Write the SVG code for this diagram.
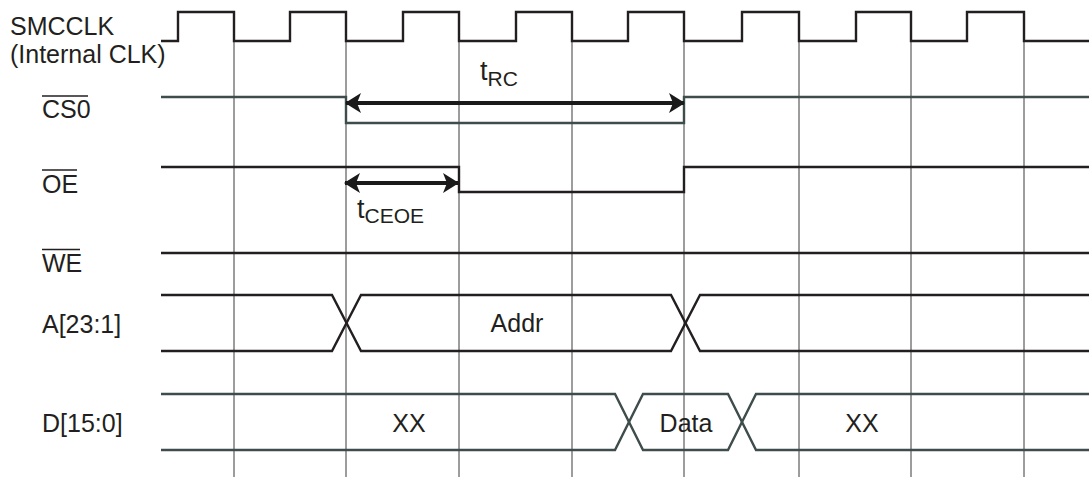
<svg xmlns="http://www.w3.org/2000/svg" width="1089" height="477" viewBox="0 0 1089 477">
<defs>
<style>
.lbl{font-family:"Liberation Sans",Arial,sans-serif;font-size:25px;fill:#231f20}
.big{font-size:27px}
.sub{font-size:21px}
.grid{stroke:#3a3a3a;stroke-width:1;fill:none}
.sig{stroke:#231f20;stroke-width:2.4;fill:none;stroke-linejoin:miter}
.sig2{stroke:#3f4c4c;stroke-width:2.4;fill:none}
.ovl{stroke:#231f20;stroke-width:1.6}
.arr{stroke:#1a1a1a;stroke-width:4;fill:none}
</style>
<marker id="ah" viewBox="0 0 16 20" refX="15" refY="10" markerWidth="16" markerHeight="20" markerUnits="userSpaceOnUse" orient="auto-start-reverse">
<path d="M0,0 L16,10 L0,20 L4,10 Z" fill="#1a1a1a"/>
</marker>
</defs>
<rect width="1089" height="477" fill="#fff"/>
<g id="gridlines">
<path class="grid" d="M234,41V477M346,41V477M459,41V477M572,41V477M684,41V477M799,41V477M911,41V477M1024,41V477"/>
</g>
<g id="smcclk">
<text class="lbl" x="10" y="35">SMCCLK</text>
<text class="lbl" x="10" y="63">(Internal CLK)</text>
<path class="sig" d="M161,41H178V12H234V41H290V12H346V41H403V12H459V41H516V12H572V41H628V12H684V41H742V12H799V41H856V12H911V41H967V12H1024V41H1089"/>
</g>
<g id="cs0">
<text class="lbl" x="42" y="118">CS0</text>
<line class="ovl" x1="42" y1="96" x2="88" y2="96"/>
<path class="sig2" d="M161,97H346V123H684V97H1089"/>
</g>
<g id="oe">
<text class="lbl" x="42" y="193">OE</text>
<line class="ovl" x1="42" y1="170" x2="77" y2="170"/>
<path class="sig" d="M161,167H459V192H684V167H1089"/>
</g>
<g id="we">
<text class="lbl" x="42" y="272">WE</text>
<line class="ovl" x1="42" y1="249.5" x2="80" y2="249.5"/>
<path class="sig" d="M161,253H1089"/>
</g>
<g id="addr">
<text class="lbl" x="42" y="333">A[23:1]</text>
<path class="sig" d="M161,295H332L361,351H671L700,295H1089"/>
<path class="sig" d="M161,351H332L361,295H671L700,351H1089"/>
<text class="lbl" x="517" y="332" text-anchor="middle">Addr</text>
</g>
<g id="data">
<text class="lbl" x="42" y="432">D[15:0]</text>
<path class="sig2" d="M161,394H615L643,450H728L756,394H1089"/>
<path class="sig2" d="M161,450H615L643,394H728L756,450H1089"/>
<text class="lbl" x="409" y="432" text-anchor="middle">XX</text>
<text class="lbl" x="686" y="432" text-anchor="middle">Data</text>
<text class="lbl" x="862" y="432" text-anchor="middle">XX</text>
</g>
<g id="connectors">
<line class="arr" x1="346" y1="103" x2="684" y2="103" marker-start="url(#ah)" marker-end="url(#ah)"/>
<line class="arr" x1="345" y1="183" x2="458" y2="183" marker-start="url(#ah)" marker-end="url(#ah)"/>
</g>
<g id="t-rc">
<text class="lbl big" x="480" y="80">t<tspan class="sub" dy="6">RC</tspan></text>
</g>
<g id="t-ceoe">
<text class="lbl big" x="357" y="218">t<tspan class="sub" dy="5">CEOE</tspan></text>
</g>
</svg>
